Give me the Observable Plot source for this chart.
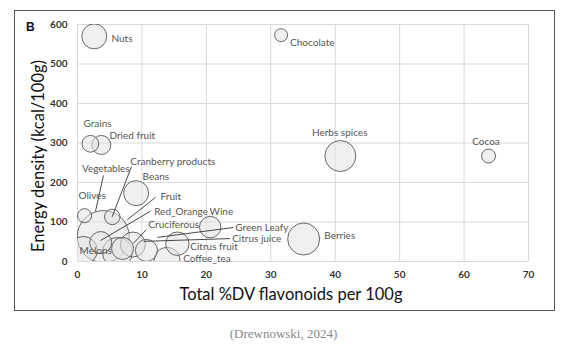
<!DOCTYPE html>
<html>
<head>
<meta charset="utf-8">
<script src="https://cdn.jsdelivr.net/npm/d3@7"></script>
<script src="https://cdn.jsdelivr.net/npm/@observablehq/plot@0.6"></script>
<style>
  html, body { margin: 0; padding: 0; background: #fff; }
  #wrap { position: relative; width: 567px; height: 351px; overflow: hidden; }
  #frame { position: absolute; left: 14px; top: 10px; width: 541px; height: 301px; border: 1.5px solid #555; box-sizing: border-box; }
  #panel { position: absolute; left: 26px; top: 20px; font: bold 12px "Liberation Sans", Arial, sans-serif; color: #111; }
  #ytitle { position: absolute; left: -112px; top: 146px; width: 300px; height: 20px; line-height: 20px; text-align: center;
            transform: rotate(-90deg); transform-origin: 150px 10px; font: 16.5px Lato, sans-serif; color: #111; }
  #caption { position: absolute; left: 0; width: 567px; top: 326px; text-align: center; font: 13px "Liberation Serif", "DejaVu Serif", serif; color: #888; }
  #chart { position: absolute; left: 0; top: 0; }
</style>
</head>
<body>
<div id="wrap">
  <div id="frame"></div>
  <div id="chart"></div>
  <div id="panel">B</div>
  <div id="ytitle">Energy density (kcal/100g)</div>
  <div id="caption">(Drewnowski, 2024)</div>
</div>
<script>
// Food groups
const foods = ["Nuts", "Chocolate", "Grains", "Dried fruit", "Herbs spices", "Cocoa", "Berries",
  "Beans", "Cranberry products", "Olives", "Wine", "Citrus fruit", "Coffee_tea", "Vegetables",
  "Melons", "Fruit", "Red_Orange", "Cruciferous", "Green Leafy", "Citrus juice"];
// Total %DV flavonoids per 100g
const flavonoidsDV = [2.6, 31.6, 2.0, 3.7, 40.8, 63.8, 35.1,
  9.1, 5.4, 1.1, 20.6, 15.5, 13.9, 4.0,
  0.9, 6.2, 3.6, 8.6, 10.7, 7.0];
// Energy density kcal/100g
const energyDensity = [570, 573, 298, 295, 267, 267, 57,
  173, 113, 116, 87, 45, 3, 63,
  28, 23, 48, 43, 28, 33];
// Bubble size (relative amount)
const bubbleSize = [156, 42, 70, 90, 240, 49, 256,
  156, 60, 49, 115, 137, 169, 676,
  196, 225, 121, 156, 121, 121];

const xTicks = [0, 10, 20, 30, 40, 50, 60, 70];
const yTicks = [0, 100, 200, 300, 400, 500, 600];

// label placement (data units) and text anchor
const labelName = ["Nuts", "Chocolate", "Grains", "Dried fruit", "Herbs spices", "Cocoa", "Berries",
  "Beans", "Cranberry products", "Vegetables", "Olives", "Fruit", "Red_Orange", "Wine",
  "Cruciferous", "Green Leafy", "Citrus juice", "Citrus fruit", "Coffee_tea", "Melons"];
const labelX = [5.27, 33.0, 0.93, 4.96, 40.7, 63.4, 38.3,
  10.1, 8.2, 8.1, 0.16, 12.9, 11.9, 20.5,
  11.0, 24.5, 24.0, 17.5, 16.4, 0.31];
const labelY = [565, 554, 349, 319, 327, 304, 64,
  215, 253, 235, 167, 165, 127, 127,
  94, 86, 58, 38, 8, 28];
const labelAnchor = ["start", "start", "start", "start", "middle", "middle", "start",
  "start", "start", "end", "start", "start", "start", "start",
  "start", "start", "start", "start", "start", "start"];

// leader lines: label end -> point
const leaderName = ["Vegetables", "Cranberry products", "Fruit", "Red_Orange", "Cruciferous", "Green Leafy", "Citrus juice"];
const leaderX1 = [4.03, 8.37, 12.1, 11.3, 10.7, 24.2, 23.7];
const leaderY1 = [218, 240, 162, 127, 81, 86, 58];
const leaderX2 = [2.79, 5.38, 7.75, 3.57, 8.68, 12.4, 10.3];
const leaderY2 = [127, 113, 106, 53, 46, 61, 51];

const bubbles = foods.map((f, i) => ({food: f, x: flavonoidsDV[i], y: energyDensity[i], s: bubbleSize[i]}))
  .sort((a, b) => b.s - a.s);
const labels = labelName.map((n, i) => ({name: n, x: labelX[i], y: labelY[i], anchor: labelAnchor[i]}));
const leaders = leaderName.map((n, i) => ({name: n, x1: leaderX1[i], y1: leaderY1[i], x2: leaderX2[i], y2: leaderY2[i]}));

const chart = Plot.plot({
  width: 567,
  height: 320,
  marginLeft: 77,
  marginRight: 39,
  marginTop: 24,
  marginBottom: 59,
  style: {fontFamily: "Lato, sans-serif", background: "transparent", overflow: "visible"},
  x: {domain: [0, 70]},
  y: {domain: [0, 600]},
  r: {type: "sqrt", domain: [0, 676], range: [0, 26]},
  marks: [
    Plot.gridX(xTicks, {stroke: "#d9d9d9", strokeOpacity: 1, strokeWidth: 1}),
    Plot.gridY(yTicks, {stroke: "#d9d9d9", strokeOpacity: 1, strokeWidth: 1}),
    Plot.axisX(xTicks, {tickSize: 0, tickPadding: 9, label: null, fontSize: 10, fontWeight: "bold", color: "#333"}),
    Plot.axisY(yTicks, {tickSize: 0, tickPadding: 10, label: null, fontSize: 10, fontWeight: "bold", color: "#333"}),
    Plot.dot(bubbles, {x: "x", y: "y", r: "s", fill: "#e3e3e3", fillOpacity: 0.55, stroke: "#444", strokeWidth: 0.8, clip: true}),
    Plot.link(leaders, {x1: "x1", y1: "y1", x2: "x2", y2: "y2", stroke: "#333", strokeWidth: 0.9}),
    ...["start", "middle", "end"].map(a => Plot.text(labels.filter(d => d.anchor === a), {
      x: "x", y: "y", text: "name", textAnchor: a, fontSize: 10, fill: "#555", fontFamily: "Lato"
    })),
    Plot.text(["Total %DV flavonoids per 100g"], {frameAnchor: "bottom", dx: -12, dy: 38, fontSize: 16.5, fill: "#111"})
  ]
});
document.getElementById("chart").appendChild(chart);
</script>
</body>
</html>
